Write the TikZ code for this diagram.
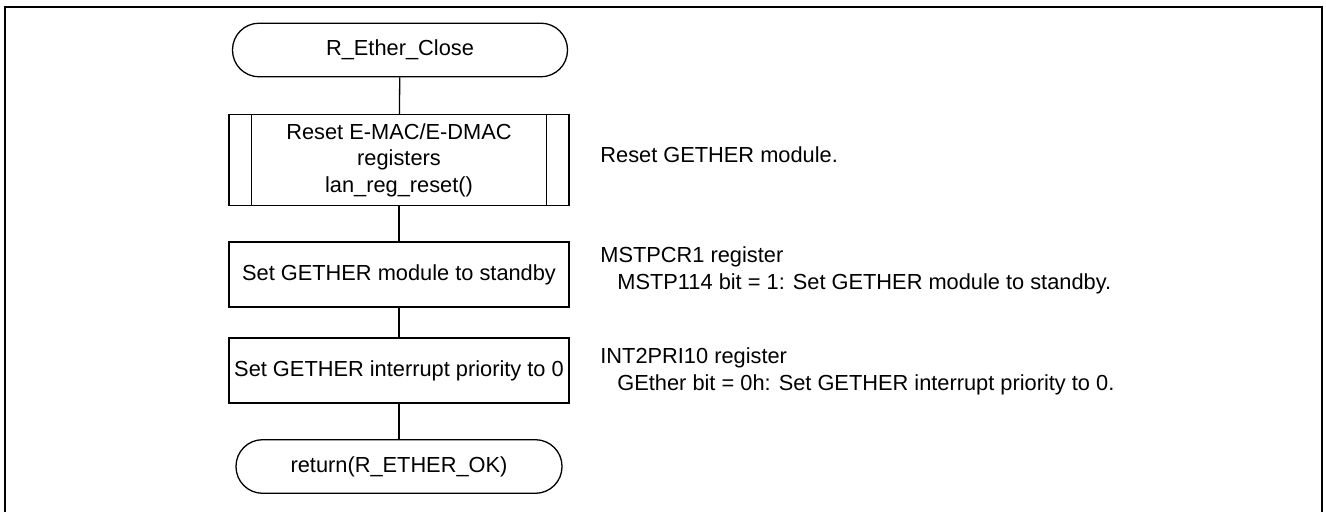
\documentclass[tikz,border=0pt]{standalone}
\usepackage{fontspec}
\setmainfont{Liberation Sans}
\begin{document}
\begin{tikzpicture}[x=0.5pt,y=-0.5pt,
  every node/.style={font=\fontsize{10.9pt}{13.3pt}\selectfont},
  terminal/.style={draw,line width=0.65pt,rounded corners=13.3pt,minimum height=26.8pt,inner sep=0pt},
  process/.style={draw,line width=0.65pt,minimum width=170pt,minimum height=32.5pt,inner sep=0pt,align=center},
  note/.style={anchor=west,align=left,inner sep=0pt}]
\useasboundingbox (0,0) rectangle (1326,512);
% Draw frame
\draw[line width=1pt] (5,512) -- (5,7) -- (1322,7) -- (1322,512);
% Draw steps
\node[terminal,minimum width=167.5pt] (start) at (400,50) {R\_Ether\_Close};
\node[process,minimum height=45.5pt] (reset) at (399,160) {Reset E-MAC/E-DMAC\\registers\\lan\_reg\_reset()};
\draw[line width=0.65pt] ([xshift=11.5pt]reset.north west) -- ([xshift=11.5pt]reset.south west);
\draw[line width=0.65pt] ([xshift=-11.5pt]reset.north east) -- ([xshift=-11.5pt]reset.south east);
\node[process] (standby) at (399,274.5) {Set GETHER module to standby};
\node[process] (prio) at (399,370.5) {Set GETHER interrupt priority to 0};
\node[terminal,minimum width=163pt] (ret) at (399,466.5) {return(R\_ETHER\_OK)};
% Draw connectors
\draw[line width=0.65pt] (start) -- (reset);
\draw[line width=0.65pt] (reset) -- (standby);
\draw[line width=0.65pt] (standby) -- (prio);
\draw[line width=0.65pt] (prio) -- (ret);
% Notes
\node[note] (resetnote) at (600,155) {Reset GETHER module.};
\node[note] (standbynote) at (600,270.5) {MSTPCR1 register\\\hspace*{8.5pt}MSTP114 bit = 1: Set GETHER module to standby.};
\node[note] (prionote) at (600,371.5) {INT2PRI10 register\\\hspace*{8.5pt}GEther bit = 0h: Set GETHER interrupt priority to 0.};
\end{tikzpicture}
\end{document}
